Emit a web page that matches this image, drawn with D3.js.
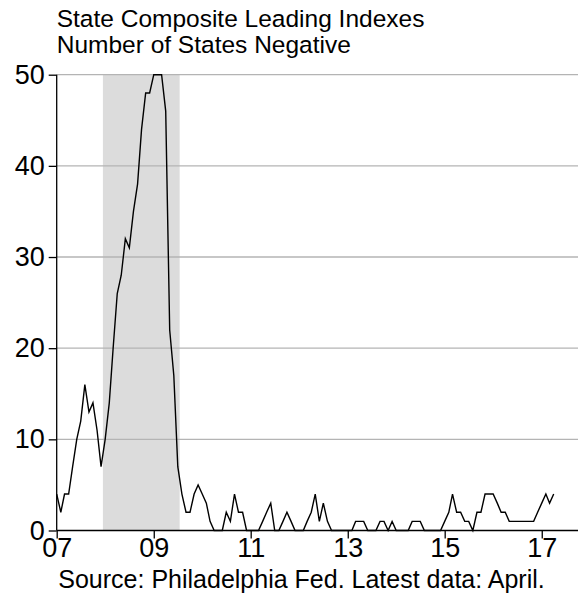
<!DOCTYPE html>
<html><head><meta charset="utf-8">
<script src="https://cdn.jsdelivr.net/npm/d3@7"></script>
<style>
html,body{margin:0;padding:0;background:#fff;}
svg{display:block;font-family:"Liberation Sans",Arial,sans-serif;}
</style></head>
<body><svg id="c" width="582" height="594"></svg>
<script>
const titleLines = ["State Composite Leading Indexes", "Number of States Negative"];
const sourceText = "Source: Philadelphia Fed. Latest data: April.";
const firstMonth = "2007-01";
const statesNegative = [
  4,2,4,4,7,10,12,16,13,14,11,7,
  10,14,20,26,28,32,31,35,38,44,48,48,
  50,50,50,46,22,17,7,4,2,2,4,5,
  4,3,1,0,0,0,2,1,4,2,2,0,
  0,0,0,1,2,3,0,0,1,2,1,0,
  0,0,1,2,4,1,3,1,0,0,0,0,
  0,0,1,1,1,0,0,0,1,1,0,1,
  0,0,0,0,1,1,1,0,0,0,0,0,
  1,2,4,2,2,1,1,0,2,2,4,4,
  4,3,2,2,1,1,1,1,1,1,1,2,
  3,4,3,4
];
const recession = ["2007-12-15", "2009-07-15"];
const xTickYears = [2007, 2009, 2011, 2013, 2015, 2017];
const xTickLabels = ["07", "09", "11", "13", "15", "17"];
const yTicks = [0, 10, 20, 30, 40, 50];
const xDomain = ["2007-01-01", "2017-10-01"];

const parseM = d3.timeParse("%Y-%m");
const parseD = d3.timeParse("%Y-%m-%d");
const start = parseM(firstMonth);
const data = statesNegative.map((v, i) => ({date: d3.timeMonth.offset(start, i), v}));

const L = 56.7, R = 578, T = 74.7, B = 530.5;
const x = d3.scaleTime().domain(xDomain.map(parseD)).range([L, R]);
const y = d3.scaleLinear().domain([0, 50]).range([B, T]);

const svg = d3.select("#c");
const FONT = "Liberation Sans, Arial, sans-serif";

svg.append("rect")
  .attr("x", x(parseD(recession[0])))
  .attr("y", T)
  .attr("width", x(parseD(recession[1])) - x(parseD(recession[0])))
  .attr("height", B - T)
  .attr("fill", "#dcdcdc");

svg.append("g").selectAll("line").data(yTicks.filter(d => d > 0)).join("line")
  .attr("x1", L).attr("x2", R)
  .attr("y1", d => y(d)).attr("y2", d => y(d))
  .attr("stroke", "#b4b4b4").attr("stroke-width", 1.3);

const yAxis = d3.axisLeft(y).tickValues(yTicks).tickSize(8).tickPadding(4).tickFormat(d3.format("d"));
const gy = svg.append("g").attr("transform", `translate(${L},0)`).call(yAxis);
gy.select(".domain").attr("stroke", "#000").attr("stroke-width", 1.3).attr("d", `M0,${T}V${B}`);
gy.selectAll(".tick line").attr("stroke", "#000").attr("stroke-width", 1.3);
gy.selectAll(".tick text").attr("font-size", 27).attr("fill", "#000").attr("font-family", FONT);

const xAxis = d3.axisBottom(x)
  .tickValues(xTickYears.map(yr => new Date(yr, 0, 1)))
  .tickFormat((d, i) => xTickLabels[i]).tickSize(8).tickPadding(0);
const gx = svg.append("g").attr("transform", `translate(0,${B})`).call(xAxis);
gx.select(".domain").attr("stroke", "#000").attr("stroke-width", 1.6).attr("d", `M${L},0H${R}`);
gx.selectAll(".tick line").attr("stroke", "#000").attr("stroke-width", 1.3);
gx.selectAll(".tick text").attr("font-size", 27).attr("fill", "#000").attr("font-family", FONT)
  .attr("dy", "0.68em");

svg.append("path").datum(data)
  .attr("fill", "none").attr("stroke", "#000").attr("stroke-width", 1.4)
  .attr("stroke-linejoin", "miter")
  .attr("d", d3.line().x(d => x(d.date)).y(d => y(d.v)));

svg.append("g").selectAll("text").data(titleLines).join("text")
  .attr("x", L).attr("y", (d, i) => 27 + i * 26)
  .attr("font-size", 24.5).attr("fill", "#000").text(d => d);

svg.append("text").attr("x", 301.5).attr("y", 588)
  .attr("text-anchor", "middle").attr("font-size", 25).attr("fill", "#000")
  .text(sourceText);
</script></body></html>
